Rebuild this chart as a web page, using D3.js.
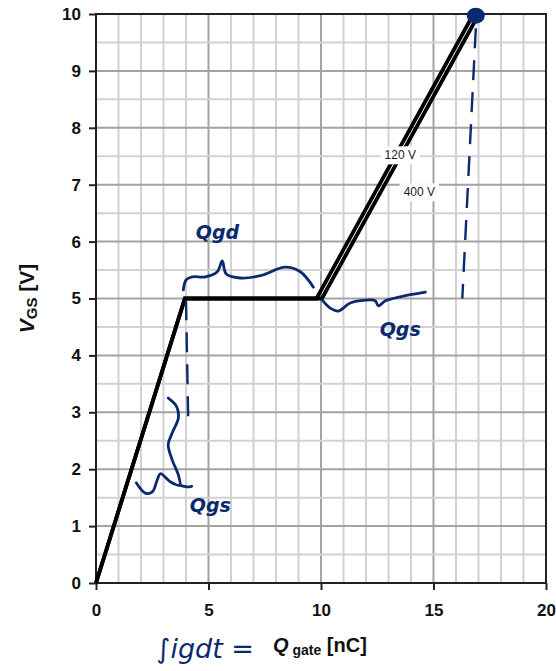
<!DOCTYPE html>
<html>
<head>
<meta charset="utf-8">
<script src="https://cdn.jsdelivr.net/npm/d3@7"></script>
<style>
  body { margin: 0; background: #fff; }
</style>
</head>
<body>
<div class="container"></div>
<script>
// gate charge curves, Q in nC and V in V
let qGate120 = [0, 3.95, 9.8, 16.78];
let vGs120 = [0, 5, 5, 10];
let qGate400 = [0, 3.95, 10.04, 17.02];
let vGs400 = [0, 5, 5, 10];
let xTicks = [0, 5, 10, 15, 20];
let yTicks = [0, 1, 2, 3, 4, 5, 6, 7, 8, 9, 10];
let seriesNames = ["120 V", "400 V"];
let labelPos = [[13.52, 7.52], [14.37, 6.87]];

// handwritten notes, in data units
let bracketQgd = [[3.88,5.15],[4.01,5.33],[4.28,5.38],[4.86,5.38],[5.39,5.47],[5.61,5.66],[5.79,5.43],[6.41,5.36],[7.3,5.4],[8.41,5.55],[9.08,5.47],[9.66,5.2]];
let bracketQgs2 = [[10.06,4.97],[10.41,4.83],[10.77,4.78],[11.3,4.92],[11.97,4.97],[12.41,4.96],[12.55,4.87],[12.86,4.96],[13.52,5.03],[14.64,5.11]];
let bracketQgs1 = [[3.21,3.25],[3.57,3.11],[3.66,2.9],[3.39,2.64],[3.21,2.43],[3.39,2.16],[3.66,1.9],[3.72,1.72],[3.3,1.78],[2.86,1.92],[2.72,1.81],[2.5,1.6],[2.19,1.58],[1.79,1.76]];
let tailQgs1 = [[3.72,1.72],[4.05,1.69],[4.25,1.7]];
let dashLeft = [[4.0,4.97],[4.1,2.83]];
let dashRight = [[16.88,9.75],[16.28,5.0]];
let noteText = ["Qgd", "Qgs", "Qgs"];
let notePos = [[5.4,6.17],[13.52,4.45],[5.08,1.37]];
let topDot = [16.88, 9.97];

let font = "Liberation Sans";
let ink = "#0b2a6e";

let margin = {top: 14, right: 10, bottom: 88, left: 96},
  width = 556 - margin.left - margin.right,
  height = 671 - margin.top - margin.bottom;

let svg = d3.select(".container").append("svg")
    .attr("width", 556)
    .attr("height", 671)
  .append("g")
    .attr("transform", "translate(" + margin.left + "," + margin.top + ")");

let x = d3.scaleLinear().domain([0, 20]).range([0, width]);
let y = d3.scaleLinear().domain([0, 10]).range([height, 0]);

// grid
let grid = svg.append("g");
grid.selectAll(".vx").data(d3.range(1, 20))
  .enter().append("line")
    .attr("x1", d => x(d)).attr("x2", d => x(d))
    .attr("y1", 0).attr("y2", height)
    .style("stroke", d => d % 5 == 0 ? "#a3a3a3" : "#d2d2d2")
    .style("stroke-width", 2);
grid.selectAll(".hy").data(d3.range(1, 20).map(d => d / 2))
  .enter().append("line")
    .attr("x1", 0).attr("x2", width)
    .attr("y1", d => y(d)).attr("y2", d => y(d))
    .style("stroke", d => d % 1 == 0 ? "#a3a3a3" : "#d2d2d2")
    .style("stroke-width", 2);

svg.append("rect")
  .attr("width", width).attr("height", height)
  .style("fill", "none").style("stroke", "#222").style("stroke-width", 2);

// axes
let xAxis = svg.append("g")
  .attr("transform", "translate(0," + height + ")")
  .call(d3.axisBottom(x).tickValues(xTicks).tickSize(7).tickPadding(14));
let yAxis = svg.append("g")
  .call(d3.axisLeft(y).tickValues(yTicks).tickSize(7).tickPadding(8));
[xAxis, yAxis].forEach(a => {
  a.attr("font-family", font).attr("font-size", 17).attr("font-weight", "bold");
  a.select(".domain").remove();
  a.selectAll(".tick line").style("stroke", "#222").style("stroke-width", 2);
  a.selectAll(".tick text").style("fill", "#111");
});

// curves
let line = d3.line().x(d => x(d[0])).y(d => y(d[1]));
let curves = [d3.zip(qGate120, vGs120), d3.zip(qGate400, vGs400)];
svg.selectAll(".curve").data(curves)
  .enter().append("path")
    .attr("d", line)
    .style("fill", "none")
    .style("stroke", "#000")
    .style("stroke-width", 3.8);

// series labels
seriesNames.forEach((name, i) => {
  let g = svg.append("g")
    .attr("transform", "translate(" + x(labelPos[i][0]) + "," + y(labelPos[i][1]) + ")");
  let t = g.append("text")
    .text(name)
    .attr("text-anchor", "middle")
    .attr("dy", "0.35em")
    .attr("font-family", font).attr("font-size", 12)
    .style("fill", "#222");
  let bb = t.node().getBBox();
  g.insert("rect", "text")
    .attr("x", bb.x - 4).attr("y", bb.y - 2)
    .attr("width", bb.width + 8).attr("height", bb.height + 4)
    .style("fill", "#fff");
});

// axis titles
let ylab = svg.append("text")
  .attr("transform", "translate(-62," + height / 2 + ") rotate(-90)")
  .attr("text-anchor", "middle")
  .attr("font-family", font).attr("font-size", 21).attr("font-weight", "bold")
  .style("fill", "#111");
ylab.append("tspan").text("V").attr("font-style", "italic");
ylab.append("tspan").text("GS").attr("font-size", 15).attr("dy", 3);
ylab.append("tspan").text(" [V]").attr("dy", -3);

let xlab = svg.append("text")
  .attr("x", 273 - margin.left).attr("y", 652 - margin.top)
  .attr("font-family", font).attr("font-size", 20).attr("font-weight", "bold")
  .style("fill", "#111");
xlab.append("tspan").text("Q").attr("font-style", "italic");
xlab.append("tspan").text(" gate").attr("font-size", 14).attr("dy", 3);
xlab.append("tspan").text(" [nC]").attr("dy", -3);

// handwriting
let hand = svg.append("g");
let smooth = d3.line().x(d => x(d[0])).y(d => y(d[1])).curve(d3.curveCatmullRom);
[bracketQgd, bracketQgs2, bracketQgs1, tailQgs1].forEach(pts => {
  hand.append("path")
    .attr("d", smooth(pts))
    .style("fill", "none").style("stroke", ink)
    .style("stroke-width", 2.8).style("stroke-linecap", "round");
});
[dashLeft, dashRight].forEach(pts => {
  hand.append("path")
    .attr("d", line(pts))
    .style("fill", "none").style("stroke", ink)
    .style("stroke-width", 2.4)
    .style("stroke-dasharray", "20,12");
});
noteText.forEach((t, i) => {
  hand.append("text")
    .attr("x", x(notePos[i][0])).attr("y", y(notePos[i][1]))
    .attr("text-anchor", "middle").attr("dy", "0.35em")
    .attr("font-family", "DejaVu Sans").attr("font-style", "italic")
    .attr("font-weight", "bold").attr("font-size", 19)
    .style("fill", ink)
    .text(t);
});
hand.append("ellipse")
  .attr("cx", x(topDot[0])).attr("cy", y(topDot[1]))
  .attr("rx", 9).attr("ry", 8)
  .style("fill", ink);
hand.append("text")
  .attr("x", 254 - margin.left).attr("y", 658 - margin.top)
  .attr("text-anchor", "end")
  .attr("font-family", "DejaVu Sans").attr("font-style", "italic")
  .attr("font-size", 27)
  .style("fill", ink)
  .text("∫igdt =");
</script>
</body>
</html>
